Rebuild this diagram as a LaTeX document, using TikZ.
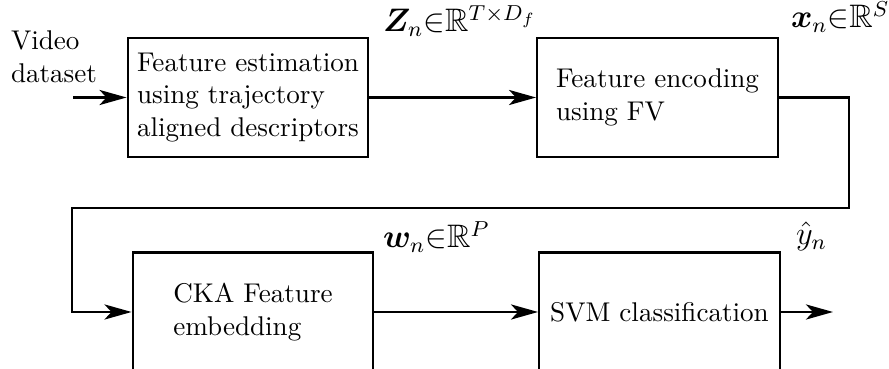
\documentclass[tikz,border=0pt]{standalone}
\usepackage{amsmath,amssymb,bm}
\usetikzlibrary{arrows.meta}
\begin{document}
\begin{tikzpicture}[x=0.369pt,y=-0.369pt, line width=0.75pt,
  >={Stealth[length=10pt,width=5.6pt,inset=2.6pt]},
  blk/.style={draw, minimum width=88.9pt, minimum height=43.9pt, align=left, inner sep=0pt},
  lbl/.style={anchor=base west, inner sep=0pt, font=\large}]
\path[use as bounding box, clip] (0,0) rectangle (889,369);
% blocks
\node[blk] (b1) at (248,97.5) {Feature estimation\\using trajectory\\aligned descriptors};
\node[blk] (b2) at (657.5,97.5) {Feature encoding\\using FV};
\node[blk] (b3) at (253,312) {CKA Feature\\embedding};
\node[blk] (b4) at (659.5,312) {SVM classification};
% input text
\node[anchor=north west, align=left, inner sep=0pt] (vid) at (10,30) {Video\\dataset};
% labels
\node[lbl] (lz) at (382,32) {$\boldsymbol{Z}_n{\in}\mathbb{R}^{T\times D_f}$};
\node[lbl] (lx) at (790,28) {$\boldsymbol{x}_n{\in}\mathbb{R}^{S}$};
\node[lbl] (lw) at (382,248) {$\boldsymbol{w}_n{\in}\mathbb{R}^{P}$};
\node[lbl] (ly) at (795,245) {$\hat{y}_n$};
% connectors
\coordinate (in) at (73,97.5);
\coordinate (c1) at (849,208);
\coordinate (c2) at (72,208);
\coordinate (out) at (833,312);
\draw[->] (in) -- (b1.west);
\draw[->] (b1.east) -- (b2.west);
\draw[->] (b2.east) -| (c1) -- (c2) |- (b3.west);
\draw[->] (b3.east) -- (b4.west);
\draw[->] (b4.east) -- (out);
\end{tikzpicture}
\end{document}
